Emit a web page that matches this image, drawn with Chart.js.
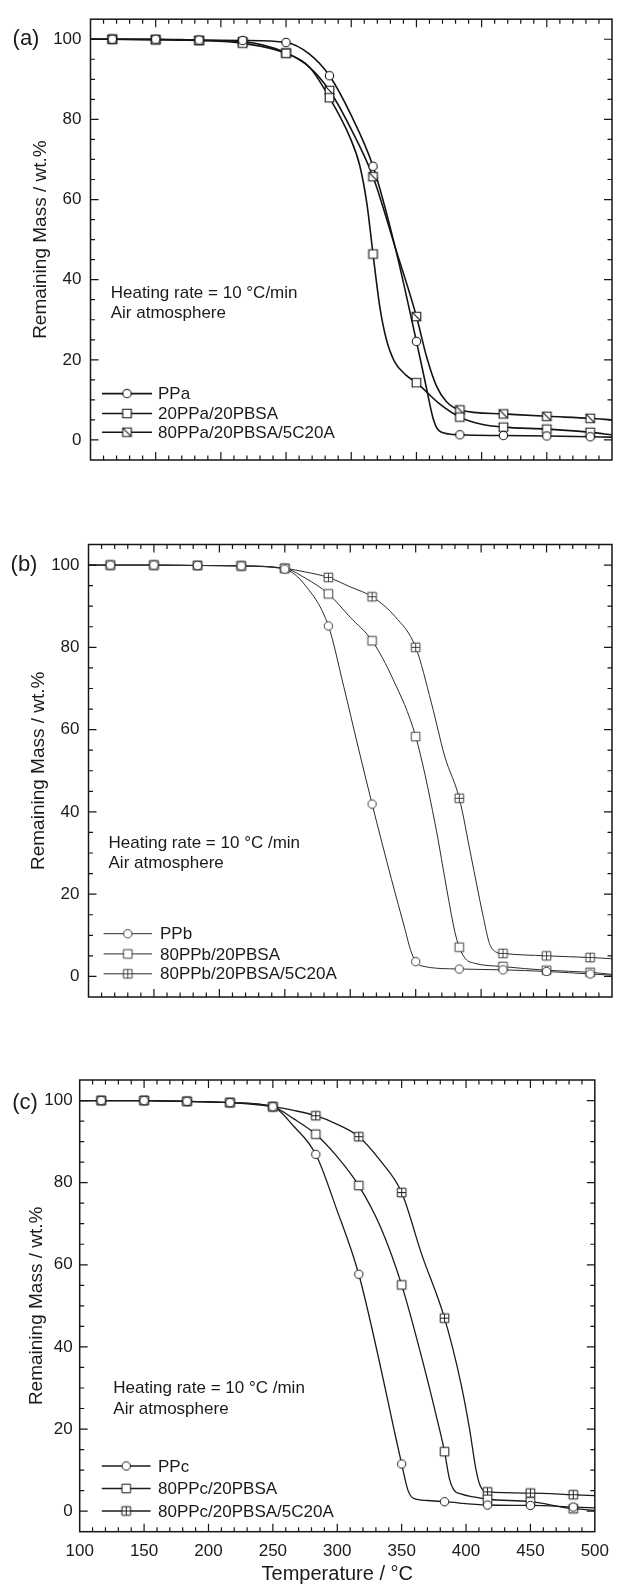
<!DOCTYPE html>
<html>
<head>
<meta charset="utf-8">
<script src="https://cdn.jsdelivr.net/npm/chart.js@4.4.0/dist/chart.umd.min.js"></script>
<style>
  html, body { margin: 0; padding: 0; background: #fff; }
  body { width: 618px; height: 1586px; position: relative; overflow: hidden; }
  .panel { position: absolute; left: 0; }
</style>
</head>
<body>
<div class="panel" style="top:0px"><canvas id="chartA" width="618" height="490"></canvas></div>
<div class="panel" style="top:500px"><canvas id="chartB" width="618" height="520"></canvas></div>
<div class="panel" style="top:1040px"><canvas id="chartC" width="618" height="546"></canvas></div>
<script>
const FONT = '"Liberation Sans", Arial, Helvetica, sans-serif';

// temperatures where the symbols sit (same for every curve)
const markerTemps = [116.7, 150, 183.3, 216.7, 250, 283.3, 316.7, 350, 383.3, 416.7, 450, 483.3];
const xTicks = [100, 150, 200, 250, 300, 350, 400, 450, 500];
const yTicks = [0, 20, 40, 60, 80, 100];

// ---- panel (a)
const labelsA = ['PPa', '20PPa/20PBSA', '80PPa/20PBSA/5C20A'];
const ppaMarks = [100, 100, 99.8, 99.7, 99.2, 90.9, 68.3, 24.6, 1.3, 1.1, 1.0, 0.8];
const ppaCurveT = [100, 116.7, 150, 183.3, 216.7, 250, 268, 283.3, 300, 316.7, 333, 350, 357.6, 362.7, 366.5, 375, 383.3, 416.7, 450, 483.3, 500];
const ppaCurveY = [100, 100, 100, 99.8, 99.7, 99.2, 96.3, 90.9, 81, 68.3, 49, 24.6, 13.1, 5.5, 2.6, 1.5, 1.3, 1.1, 1.0, 0.8, 0.7];
const pbaMarks = [100, 99.9, 99.7, 99.0, 96.5, 85.4, 46.4, 14.3, 5.7, 3.2, 2.7, 1.9];
const pbaCurveT = [100, 116.7, 150, 183.3, 216.7, 250, 268, 283.3, 299, 306.5, 312, 316.7, 322, 327, 333.3, 342, 350, 367.8, 383.3, 400, 416.7, 450, 483.3, 500];
const pbaCurveY = [100, 100, 99.9, 99.7, 99.0, 96.5, 93.0, 85.4, 75.5, 68.5, 59, 46.4, 33, 25, 19.5, 16.2, 14.3, 9.0, 5.7, 3.9, 3.2, 2.7, 1.9, 1.3];
const cnaMarks = [100, 99.9, 99.7, 99.4, 96.6, 87.2, 65.7, 30.8, 7.5, 6.5, 5.9, 5.4];
const cnaCurveT = [100, 116.7, 150, 183.3, 216.7, 250, 268, 283.3, 300, 316.7, 333, 350, 358, 365.3, 372.9, 383.3, 416.7, 450, 483.3, 500];
const cnaCurveY = [100, 100, 99.9, 99.7, 99.4, 96.6, 93.0, 87.2, 77.5, 65.7, 48.8, 30.8, 20.5, 13.5, 9.6, 7.5, 6.5, 5.9, 5.4, 5.0];

// ---- panel (b)
const labelsB = ['PPb', '80PPb/20PBSA', '80PPb/20PBSA/5C20A'];
const ppbMarks = [100, 100, 99.9, 99.8, 99.0, 85.2, 41.9, 3.6, 1.8, 1.6, 1.2, 0.6];
const ppbCurveT = [100, 116.7, 150, 183.3, 216.7, 250, 265.8, 283.3, 295, 306, 316.7, 331.6, 341.8, 346, 350, 354, 383.3, 416.7, 450, 483.3, 500];
const ppbCurveY = [100, 100, 100, 99.9, 99.8, 99.0, 95.0, 85.2, 70.5, 55.8, 41.9, 23.5, 11.5, 6.5, 3.6, 2.6, 1.8, 1.6, 1.2, 0.6, 0.3];
const pbbMarks = [100, 100, 99.9, 99.8, 99.2, 93.0, 81.6, 58.3, 7.1, 2.4, 1.5, 1.0];
const pbbCurveT = [100, 116.7, 150, 183.3, 216.7, 250, 265.8, 283.3, 300, 316.7, 332.9, 350, 364.6, 374.7, 379.8, 383.3, 388, 395, 416.7, 450, 483.3, 500];
const pbbCurveY = [100, 100, 100, 99.9, 99.8, 99.2, 96.8, 93.0, 87.3, 81.6, 72.1, 58.3, 37.5, 19.5, 11.0, 7.1, 4.3, 3.2, 2.4, 1.5, 1.0, 0.5];
const cnbMarks = [100, 100, 99.9, 99.8, 99.2, 97.0, 92.3, 80.0, 43.3, 5.6, 5.0, 4.6];
const cnbCurveT = [100, 116.7, 150, 183.3, 216.7, 250, 266, 283.3, 300, 316.7, 334.2, 350, 362, 372.2, 383.3, 392.4, 401.3, 406.4, 411, 416.7, 450, 483.3, 500];
const cnbCurveY = [100, 100, 100, 99.9, 99.8, 99.2, 98.3, 97.0, 94.7, 92.3, 87.5, 80.0, 66.5, 53.5, 43.3, 29.1, 15.0, 8.0, 6.0, 5.6, 5.0, 4.6, 4.3];

// ---- panel (c)
const labelsC = ['PPc', '80PPc/20PBSA', '80PPc/20PBSA/5C20A'];
const ppcMarks = [100, 100, 99.8, 99.5, 98.5, 86.9, 57.7, 11.5, 2.3, 1.5, 1.4, 1.0];
const ppcCurveT = [100, 116.7, 150, 183.3, 216.7, 250, 266, 283.3, 299.2, 316.7, 332.3, 344, 350, 355, 359.4, 370, 383.3, 416.7, 450, 483.3, 500];
const ppcCurveY = [100, 100, 100, 99.8, 99.5, 98.5, 93.8, 86.9, 73.8, 57.7, 37.0, 20.0, 11.5, 5.0, 3.1, 2.6, 2.3, 1.5, 1.4, 1.0, 0.8];
const pbcMarks = [100, 100, 99.8, 99.5, 98.5, 91.8, 79.3, 55.1, 14.5, 2.9, 2.3, 0.6];
const pbcCurveT = [100, 116.7, 150, 183.3, 216.7, 250, 266, 283.3, 299.2, 316.7, 333.6, 350, 365.5, 378.2, 383.3, 387, 390.5, 396, 407, 416.7, 450, 483.3, 500];
const pbcCurveY = [100, 100, 100, 99.8, 99.5, 98.5, 95.6, 91.8, 86.6, 79.3, 69.2, 55.1, 37.5, 21.5, 14.5, 8.0, 5.2, 4.2, 3.4, 2.9, 2.3, 0.6, 0.2];
const cncMarks = [100, 100, 99.8, 99.5, 98.5, 96.3, 91.2, 77.6, 47.0, 4.7, 4.4, 4.0];
const cncCurveT = [100, 116.7, 150, 183.3, 216.7, 250, 266, 283.3, 300, 316.7, 333.6, 350, 365.5, 383.3, 396.1, 403, 407.5, 411, 416.7, 450, 483.3, 500];
const cncCurveY = [100, 100, 100, 99.8, 99.5, 98.5, 97.6, 96.3, 94.2, 91.2, 85.3, 77.6, 62.6, 47.0, 31.0, 19.5, 10.5, 6.2, 4.7, 4.4, 4.0, 3.8];


// hollow symbols drawn once into small canvases, used as pointStyle
function makeMarker(kind, color, lw) {
    const c = document.createElement('canvas');
    c.width = 13;
    c.height = 13;
    const g = c.getContext('2d');
    const m = 6.5, h = 4.3;
    g.fillStyle = '#fff';
    g.strokeStyle = color;
    g.lineWidth = lw;
    g.beginPath();
    if (kind === 'circle') {
        g.arc(m, m, 4.2, 0, Math.PI * 2);
    } else {
        g.rect(m - h, m - h, 2 * h, 2 * h);
    }
    g.fill();
    g.stroke();
    g.beginPath();
    if (kind === 'diag') {
        g.moveTo(m - h, m - h);
        g.lineTo(m + h, m + h);
    }
    if (kind === 'plus') {
        g.moveTo(m, m - h);
        g.lineTo(m, m + h);
        g.moveTo(m - h, m);
        g.lineTo(m + h, m);
    }
    g.stroke();
    return c;
}

function toPoints(ts, ys) {
    return ts.map((t, i) => ({ x: t, y: ys[i] }));
}

// frame with inward ticks on all four sides, panel tag, notes and legend
const panelDecor = {
    id: 'panelDecor',
    afterDatasetsDraw(chart, args, opts) {
        const { ctx, chartArea: a, scales: { x, y } } = chart;
        ctx.save();
        ctx.strokeStyle = '#161616';
        ctx.lineWidth = 1.2;
        ctx.beginPath();
        for (let v = 110; v < 500; v += 10) {
            const px = x.getPixelForValue(v);
            const len = xTicks.includes(v) ? 8 : 4.5;
            ctx.moveTo(px, a.bottom);
            ctx.lineTo(px, a.bottom - len);
            ctx.moveTo(px, a.top);
            ctx.lineTo(px, a.top + len);
        }
        for (let v = 0; v < 105; v += 5) {
            const py = y.getPixelForValue(v);
            const len = yTicks.includes(v) ? 8 : 4.5;
            ctx.moveTo(a.left, py);
            ctx.lineTo(a.left + len, py);
            ctx.moveTo(a.right, py);
            ctx.lineTo(a.right - len, py);
        }
        ctx.stroke();
        ctx.lineWidth = 1.5;
        ctx.strokeRect(a.left, a.top, a.right - a.left, a.bottom - a.top);
        ctx.restore();
    },
    afterDraw(chart, args, opts) {
        const { ctx, scales: { x, y } } = chart;
        ctx.save();
        ctx.fillStyle = '#1a1a1a';
        ctx.textBaseline = 'middle';

        ctx.font = '22px ' + FONT;
        ctx.textAlign = 'center';
        ctx.fillText(opts.tag, opts.tagX, y.getPixelForValue(100) + opts.tagDy);

        ctx.font = '17px ' + FONT;
        ctx.textAlign = 'left';
        opts.notes.forEach((line, i) => {
            ctx.fillText(line, x.getPixelForValue(opts.noteT), y.getPixelForValue(opts.noteY[i]));
        });

        const markers = chart.data.datasets.filter(d => d.showLine === false);
        markers.forEach((ds, i) => {
            const ry = opts.legendRows[i];
            ctx.strokeStyle = opts.color;
            ctx.lineWidth = opts.lineWidth;
            ctx.beginPath();
            ctx.moveTo(opts.legendLine[0], ry);
            ctx.lineTo(opts.legendLine[1], ry);
            ctx.stroke();
            const img = ds.pointStyle;
            const cx = (opts.legendLine[0] + opts.legendLine[1]) / 2;
            ctx.drawImage(img, cx - img.width / 2, ry - img.height / 2);
            ctx.fillText(ds.label, opts.legendText, ry + 1);
        });
        ctx.restore();
    }
};

function buildPanel(canvasId, p) {
    const kinds = p.kinds;
    const markerSets = p.series.map((s, i) => ({
        label: s.label,
        data: toPoints(markerTemps, s.marks),
        showLine: false,
        pointStyle: makeMarker(kinds[i], p.color, p.markerWidth),
        pointRadius: 5,
        pointHoverRadius: 5,
        order: 0
    }));
    const curveSets = p.series.map(s => ({
        label: s.label + ' curve',
        data: toPoints(s.curveT, s.curveY),
        borderColor: p.color,
        borderWidth: p.lineWidth,
        pointRadius: 0,
        cubicInterpolationMode: 'monotone',
        fill: false,
        order: 1
    }));

    const canvas = document.getElementById(canvasId);
    const area = p.area;
    const below = canvas.height - area.bottom - (p.xLabels ? p.xAxisHeight : 0);

    return new Chart(canvas, {
        type: 'line',
        data: { datasets: markerSets.concat(curveSets) },
        options: {
            responsive: false,
            animation: false,
            devicePixelRatio: 1,
            events: [],
            layout: { padding: { left: 0, top: area.top, right: canvas.width - area.right, bottom: below } },
            scales: {
                x: {
                    type: 'linear',
                    min: 100,
                    max: 500,
                    display: p.xLabels,
                    afterBuildTicks: s => { s.ticks = xTicks.map(v => ({ value: v })); },
                    afterFit: s => { s.height = p.xLabels ? p.xAxisHeight : 0; },
                    grid: { display: false, drawTicks: false },
                    border: { display: false },
                    ticks: { color: '#1a1a1a', font: { family: FONT, size: 17 }, padding: 9, maxRotation: 0, autoSkip: false },
                    title: {
                        display: true,
                        text: 'Temperature / °C',
                        color: '#1a1a1a',
                        font: { family: FONT, size: 20 },
                        padding: { top: 0, bottom: 0 }
                    }
                },
                y: {
                    type: 'linear',
                    min: -5,
                    max: 105,
                    afterBuildTicks: s => { s.ticks = yTicks.map(v => ({ value: v })); },
                    afterFit: s => { s.width = area.left; },
                    grid: { display: false, drawTicks: false },
                    border: { display: false },
                    ticks: { color: '#1a1a1a', font: { family: FONT, size: 17 }, padding: p.yPad },
                    title: {
                        display: true,
                        text: 'Remaining Mass / wt.%',
                        color: '#1a1a1a',
                        font: { family: FONT, size: 19 },
                        padding: { top: p.yTitleX - 11.4, bottom: 0 }
                    }
                }
            },
            plugins: {
                legend: { display: false },
                tooltip: { enabled: false },
                panelDecor: {
                    tag: p.tag,
                    tagX: p.tagX,
                    tagDy: p.tagDy,
                    notes: p.notes,
                    noteT: p.noteT,
                    noteY: p.noteY,
                    legendRows: p.legendRows,
                    legendLine: p.legendLine,
                    legendText: p.legendText,
                    color: p.color,
                    lineWidth: p.lineWidth
                }
            }
        },
        plugins: [panelDecor]
    });
}

buildPanel('chartA', {
    series: [
        { label: labelsA[0], marks: ppaMarks, curveT: ppaCurveT, curveY: ppaCurveY },
        { label: labelsA[1], marks: pbaMarks, curveT: pbaCurveT, curveY: pbaCurveY },
        { label: labelsA[2], marks: cnaMarks, curveT: cnaCurveT, curveY: cnaCurveY }
    ],
    kinds: ['circle', 'square', 'diag'],
    color: '#141414',
    lineWidth: 1.6,
    markerWidth: 1.1,
    area: { left: 90.5, right: 612.5, top: 14, bottom: 460 },
    xLabels: false,
    yPad: 9,
    yTitleX: 40.5,
    tag: '(a)', tagX: 26, tagDy: 0,
    notes: ['Heating rate = 10 °C/min', 'Air atmosphere'],
    noteT: 115.5, noteY: [36.6, 31.7],
    legendRows: [393.6, 413.5, 432.2],
    legendLine: [102, 152],
    legendText: 158
});

buildPanel('chartB', {
    series: [
        { label: labelsB[0], marks: ppbMarks, curveT: ppbCurveT, curveY: ppbCurveY },
        { label: labelsB[1], marks: pbbMarks, curveT: pbbCurveT, curveY: pbbCurveY },
        { label: labelsB[2], marks: cnbMarks, curveT: cnbCurveT, curveY: cnbCurveY }
    ],
    kinds: ['circle', 'square', 'plus'],
    color: '#2b2b2b',
    lineWidth: 1.0,
    markerWidth: 0.9,
    area: { left: 88.5, right: 615, top: 44.5, bottom: 497 },
    xLabels: false,
    yPad: 9,
    yTitleX: 38.5,
    tag: '(b)', tagX: 24, tagDy: 0,
    notes: ['Heating rate = 10 °C /min', 'Air atmosphere'],
    noteT: 115.3, noteY: [32.3, 27.4],
    legendRows: [433.7, 453.9, 473.8],
    legendLine: [103.6, 152],
    legendText: 160
});

buildPanel('chartC', {
    series: [
        { label: labelsC[0], marks: ppcMarks, curveT: ppcCurveT, curveY: ppcCurveY },
        { label: labelsC[1], marks: pbcMarks, curveT: pbcCurveT, curveY: pbcCurveY },
        { label: labelsC[2], marks: cncMarks, curveT: cncCurveT, curveY: cncCurveY }
    ],
    kinds: ['circle', 'square', 'plus'],
    color: '#1b1b1b',
    lineWidth: 1.3,
    markerWidth: 1.0,
    area: { left: 79.7, right: 602.4, top: 40, bottom: 491.7 },
    xLabels: true,
    xAxisHeight: 54.3,
    yPad: 7,
    yTitleX: 36.6,
    tag: '(c)', tagX: 25, tagDy: 2,
    notes: ['Heating rate = 10 °C /min', 'Air atmosphere'],
    noteT: 126.1, noteY: [29.8, 24.8],
    legendRows: [426, 448.5, 471],
    legendLine: [101.8, 150.6],
    legendText: 158
});
</script>
</body>
</html>
